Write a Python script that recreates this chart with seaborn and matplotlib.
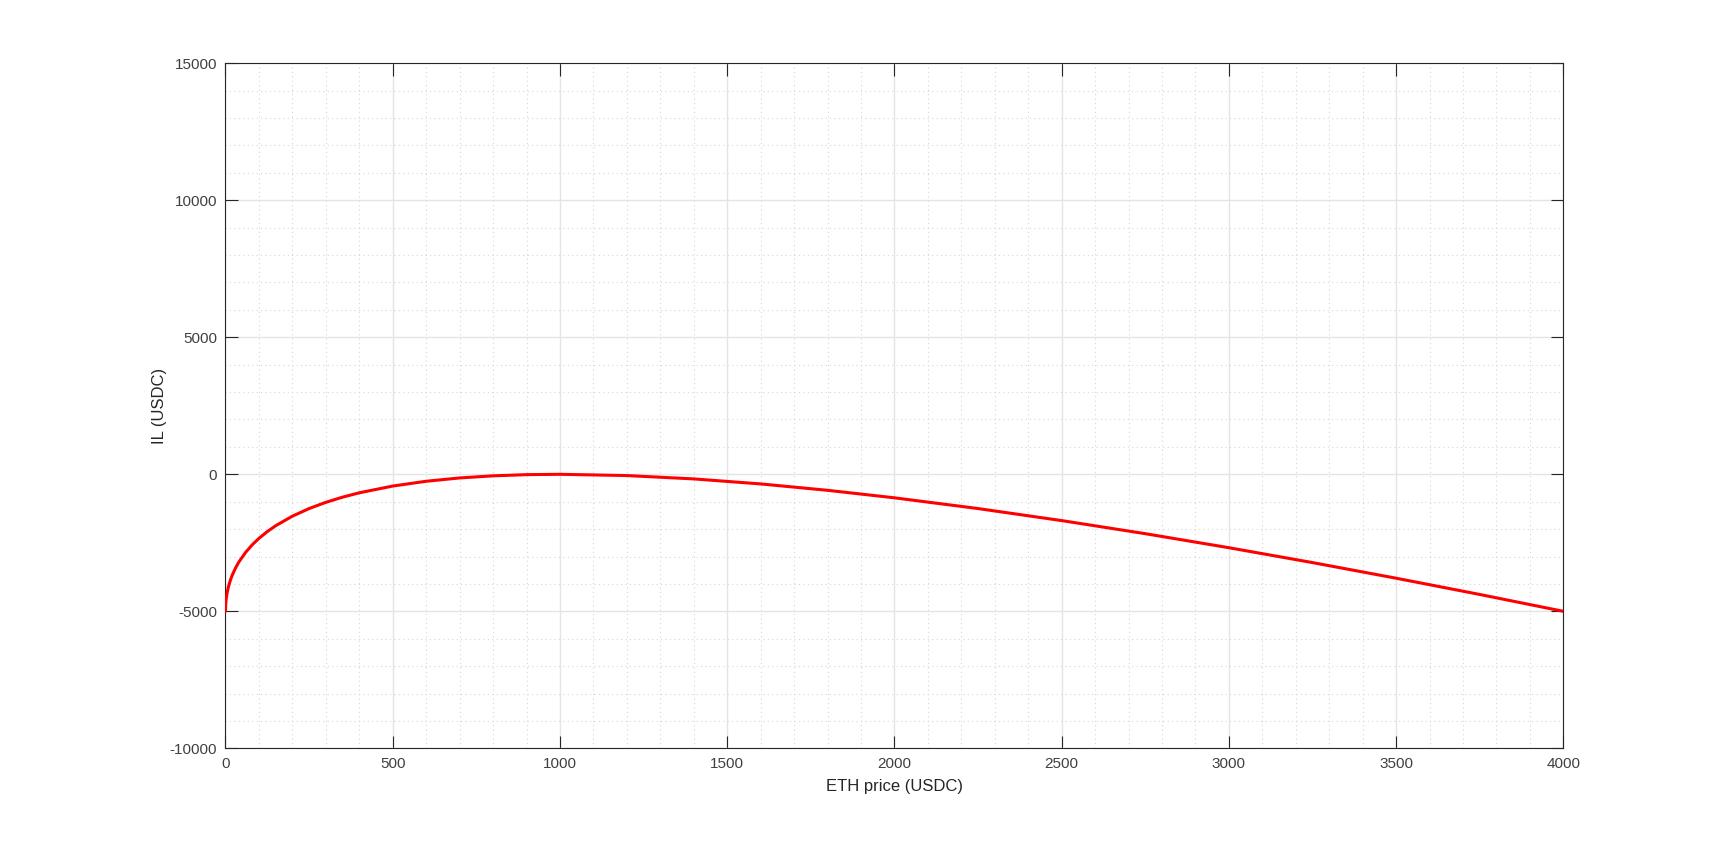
import matplotlib
matplotlib.use("Agg")
import matplotlib.pyplot as plt
from matplotlib.ticker import MultipleLocator
import seaborn as sns
import pandas as pd

# ETH price (USDC) and impermanent loss (USDC)
eth_price = [0, 0.5, 1, 2, 3, 5, 7.5, 10, 15, 20, 30, 40, 60, 80, 100, 125, 150,
             200, 250, 300, 350, 400, 500, 600, 700, 800, 900, 1000, 1200, 1400,
             1600, 1800, 2000, 2250, 2500, 2750, 3000, 3250, 3500, 3750, 4000]
il_usdc = [-5000, -4779, -4689, -4563, -4467, -4318, -4171, -4050, -3850, -3686,
           -3418, -3200, -2851, -2572, -2338, -2090, -1877, -1528, -1250, -1023,
           -834, -675, -429, -254, -133, -56, -13, 0, -46, -168, -351, -584, -858,
           -1250, -1689, -2167, -2679, -3222, -3792, -4385, -5000]

x_ticks = [0, 500, 1000, 1500, 2000, 2500, 3000, 3500, 4000]
y_ticks = [-10000, -5000, 0, 5000, 10000, 15000]

df = pd.DataFrame({"price": eth_price, "il": il_usdc})

sns.set_style("white")
plt.rcParams["font.family"] = ["Liberation Sans", "DejaVu Sans"]

fig = plt.figure(figsize=(17.28, 8.42), dpi=100)
ax = fig.add_axes([225.5 / 1728, 1 - 748.3 / 842, (1563.3 - 225.5) / 1728, (748.3 - 63.3) / 842])

sns.lineplot(data=df, x="price", y="il", ax=ax, color="#ff0000", linewidth=2.2,
             estimator=None, sort=False, zorder=5)

ax.set_xlim(0, 4000)
ax.set_ylim(-10000, 15000)
ax.set_xticks(x_ticks)
ax.set_yticks(y_ticks)
ax.set_xticklabels([str(v) for v in x_ticks])
ax.set_yticklabels([str(v) for v in y_ticks])
ax.xaxis.set_minor_locator(MultipleLocator(100))
ax.yaxis.set_minor_locator(MultipleLocator(1000))

ax.grid(True, which="major", color="#e4e4e4", linewidth=1.0, linestyle="-", zorder=0)
ax.grid(True, which="minor", color="#d6d6d6", linewidth=0.8, linestyle=(0, (1, 3)), zorder=0)
ax.set_axisbelow(True)

ax.tick_params(which="major", direction="in", length=9, width=0.8, color="#262626",
               top=True, right=True, bottom=True, left=True,
               labelsize=11, labelcolor="#404040", pad=6)
ax.tick_params(which="minor", length=0, top=False, right=False, bottom=False, left=False)

for s in ax.spines.values():
    s.set_visible(True)
    s.set_color("#262626")
    s.set_linewidth(0.8)

ax.set_xlabel("ETH price (USDC)", fontsize=12, color="#262626", labelpad=6)
ax.set_ylabel("IL (USDC)", fontsize=12, color="#262626", labelpad=2)

fig.savefig("out.png", dpi=100, facecolor="white")
